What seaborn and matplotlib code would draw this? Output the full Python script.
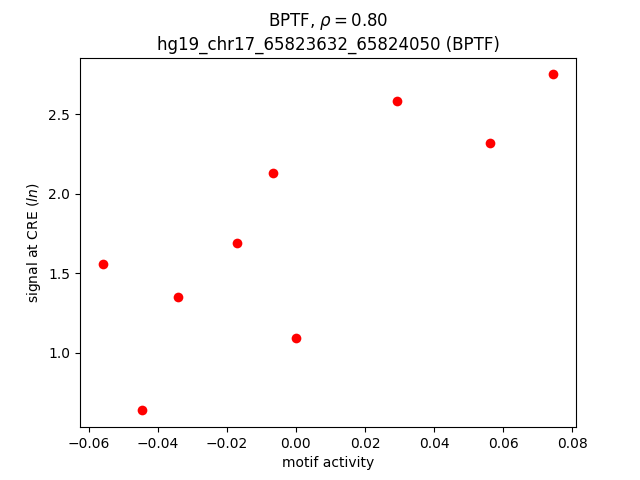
import matplotlib
matplotlib.use("Agg")
import matplotlib.pyplot as plt
import pandas as pd
import seaborn as sns

# values
motif_activity = [-0.0560, -0.0447, -0.0342, -0.0171, -0.0066, 0.0001, 0.0293, 0.0563, 0.0746]
cre_signal = [1.557, 0.636, 1.349, 1.689, 2.132, 1.091, 2.582, 2.323, 2.752]

df = pd.DataFrame({"motif activity": motif_activity, "signal": cre_signal})

fig, ax = plt.subplots(figsize=(6.4, 4.8), dpi=100)

sns.scatterplot(data=df, x="motif activity", y="signal", color="red",
                s=49, linewidth=0, ax=ax)

ax.set_title("BPTF, $\\rho = 0.80$\nhg19_chr17_65823632_65824050 (BPTF)")
ax.set_xlabel("motif activity")
ax.set_ylabel("signal at CRE ($ln$)")

fig.savefig("out.png")
